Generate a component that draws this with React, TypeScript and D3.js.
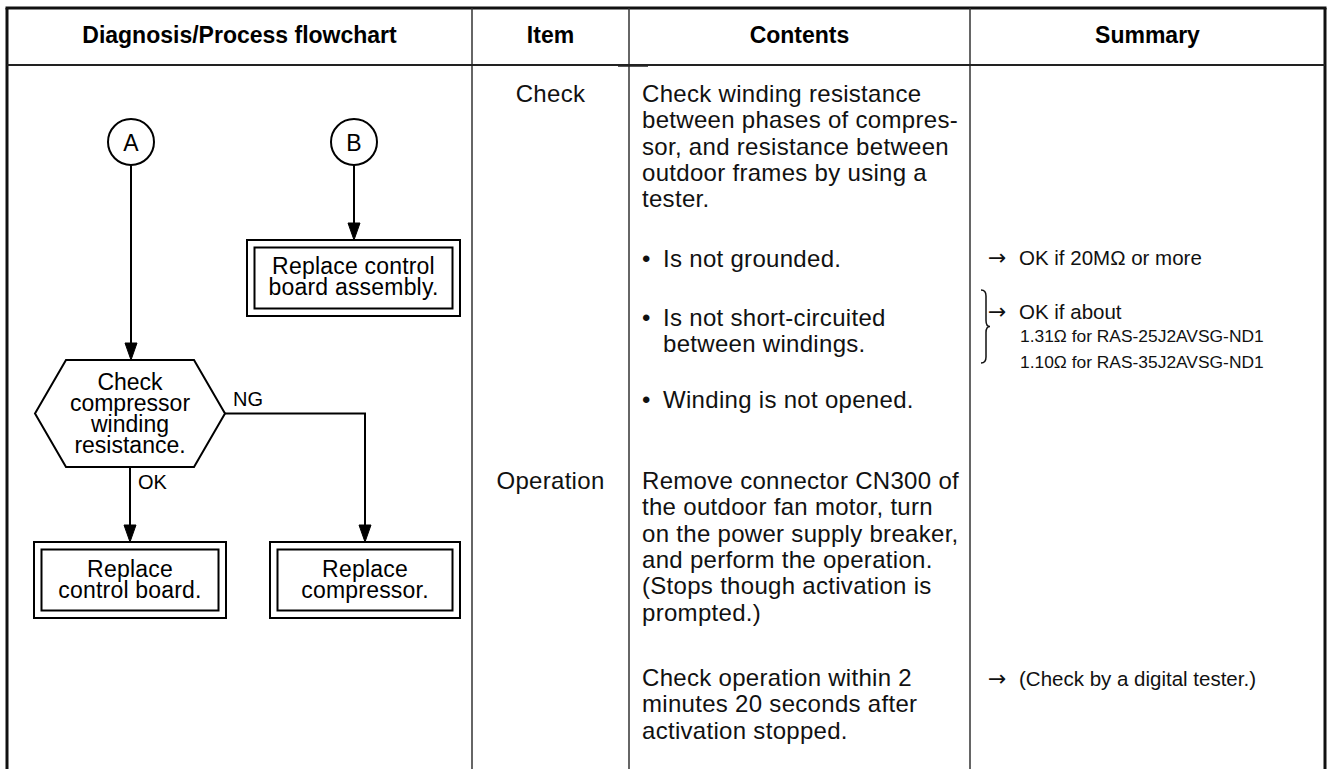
import React from "react";
import * as d3 from "d3";

// ---------- data (texts) ----------
const headers = ["Diagnosis/Process flowchart", "Item", "Contents", "Summary"];
const items = ["Check", "Operation"];
const contentsCheckIntro = [
  "Check winding resistance",
  "between phases of compres-",
  "sor, and resistance between",
  "outdoor frames by using a",
  "tester.",
];
const contentsBullets = [
  ["Is not grounded."],
  ["Is not short-circuited", "between windings."],
  ["Winding is not opened."],
];
const contentsOperation = [
  "Remove connector CN300 of",
  "the outdoor fan motor, turn",
  "on the power supply breaker,",
  "and perform the operation.",
  "(Stops though activation is",
  "prompted.)",
];
const contentsOperationCheck = [
  "Check operation within 2",
  "minutes 20 seconds after",
  "activation stopped.",
];
const summaryMain = ["OK if 20M\u03A9 or more", "OK if about", "(Check by a digital tester.)"];
const summarySub = ["1.31\u03A9 for RAS-25J2AVSG-ND1", "1.10\u03A9 for RAS-35J2AVSG-ND1"];
const connectorLabels = ["A", "B"];
const decisionText = ["Check", "compressor", "winding", "resistance."];
const boxTexts = [
  ["Replace control", "board assembly."],
  ["Replace", "control board."],
  ["Replace", "compressor."],
];
const branchLabels = ["NG", "OK"];

// ---------- layout ----------
const W = 1327;
const H = 769;
const FONT = "'Liberation Sans', Arial, Helvetica, sans-serif";
const colEdges = [7, 472, 629, 970, 1325];
const topY = 8;
const headY = 65;
const lineGap = 26.3;
const flowFs = 23;

const xCenter = (i: number) => (colEdges[i] + colEdges[i + 1]) / 2;

const line = d3.line<[number, number]>();

function Arrow({ pts }: { pts: [number, number][] }) {
  const [tx, ty] = pts[pts.length - 1];
  const hl = 17;
  const hw = 6;
  const shaft = pts.slice(0, -1).concat([[tx, ty - hl + 2]]);
  const head: [number, number][] = [
    [tx - hw, ty - hl],
    [tx + hw, ty - hl],
    [tx, ty],
  ];
  return (
    <g>
      <path d={line(shaft) || ""} fill="none" stroke="#000" strokeWidth={2} />
      <path d={(line(head) || "") + "Z"} fill="#000" stroke="#000" strokeWidth={1} strokeLinejoin="miter" />
    </g>
  );
}

function DoubleBox({ x0, y0, x1, y1, lines, cy }: { x0: number; y0: number; x1: number; y1: number; lines: string[]; cy: number }) {
  const g = 7.5;
  const cx = (x0 + x1) / 2;
  return (
    <g>
      <rect x={x0} y={y0} width={x1 - x0} height={y1 - y0} fill="#fff" stroke="#000" strokeWidth={2} />
      <rect x={x0 + g} y={y0 + g} width={x1 - x0 - 2 * g} height={y1 - y0 - 2 * g} fill="none" stroke="#000" strokeWidth={2} />
      {lines.map((t, i) => (
        <text key={i} x={cx} y={cy + i * 20.5} textAnchor="middle" fontSize={flowFs} fontFamily={FONT} letterSpacing={0.2}>
          {t}
        </text>
      ))}
    </g>
  );
}

export default function App() {
  const bodyFs = 24;
  const bodyLs = 0.3;
  const cX = 642;

  const hex: [number, number][] = [
    [66, 360],
    [194, 360],
    [225, 413.5],
    [194, 467],
    [66, 467],
    [35, 413.5],
  ];

  const text = (t: string, x: number, y: number, extra: any = {}) => (
    <text x={x} y={y} fontSize={bodyFs} fontFamily={FONT} letterSpacing={bodyLs} fill="#111" {...extra}>
      {t}
    </text>
  );

  const braceX = 981;
  const bTop = 290;
  const bBot = 363;
  const bMid = (bTop + bBot) / 2;
  const brace = `M${braceX},${bTop} Q${braceX + 5},${bTop} ${braceX + 5},${bTop + 6} L${braceX + 5},${bMid - 6} Q${braceX + 5},${bMid} ${braceX + 9},${bMid} Q${braceX + 5},${bMid} ${braceX + 5},${bMid + 6} L${braceX + 5},${bBot - 6} Q${braceX + 5},${bBot} ${braceX},${bBot}`;

  const summaryRows = [265, 319, 686];

  return (
    <svg width={W} height={H} style={{ position: "absolute", left: 0, top: 0, display: "block", background: "#fff" }}>
      <rect x={0} y={0} width={W} height={H} fill="#fff" />
      {/* table frame */}
      <line x1={colEdges[0] - 1.5} x2={colEdges[4] + 1.5} y1={topY} y2={topY} stroke="#111" strokeWidth={3} />
      <line x1={colEdges[0]} x2={colEdges[0]} y1={topY} y2={H} stroke="#111" strokeWidth={3} />
      <line x1={colEdges[4]} x2={colEdges[4]} y1={topY} y2={H} stroke="#111" strokeWidth={3} />
      {colEdges.slice(1, 4).map((x, i) => (
        <line key={i} x1={x} x2={x} y1={topY} y2={H} stroke="#333" strokeWidth={1.5} />
      ))}
      <line x1={colEdges[0]} x2={colEdges[4]} y1={headY} y2={headY} stroke="#222" strokeWidth={2} />
      <line x1={618} x2={648} y1={headY + 0.5} y2={headY + 0.5} stroke="#222" strokeWidth={2.5} />

      {/* headers */}
      {headers.map((h, i) => (
        <text key={h} x={xCenter(i)} y={43} textAnchor="middle" fontSize={23} fontWeight="bold" fontFamily={FONT} fill="#000">
          {h}
        </text>
      ))}

      {/* item column */}
      {text(items[0], xCenter(1), 102, { textAnchor: "middle" })}
      {text(items[1], xCenter(1), 489, { textAnchor: "middle" })}

      {/* contents column */}
      {contentsCheckIntro.map((t, i) => <g key={"ci" + i}>{text(t, cX, 102 + i * lineGap)}</g>)}
      {contentsBullets.map((ls, bi) => {
        const y0 = [267, 326, 408][bi];
        return (
          <g key={"b" + bi}>
            {text("\u2022", cX, y0)}
            {ls.map((t, i) => <g key={i}>{text(t, 663, y0 + i * lineGap)}</g>)}
          </g>
        );
      })}
      {contentsOperation.map((t, i) => <g key={"o" + i}>{text(t, cX, 489 + i * lineGap)}</g>)}
      {contentsOperationCheck.map((t, i) => <g key={"oc" + i}>{text(t, cX, 686 + i * lineGap)}</g>)}

      {/* summary column */}
      {summaryMain.map((t, i) => (
        <g key={"s" + i}>
          <text x={988} y={summaryRows[i]} fontSize={22} fontFamily="'DejaVu Sans', sans-serif" fill="#111">
            {"\u2192"}
          </text>
          <text x={1019} y={summaryRows[i]} fontSize={20.5} fontFamily={FONT} fill="#111">
            {t}
          </text>
        </g>
      ))}
      {summarySub.map((t, i) => (
        <text key={"ss" + i} x={1020} y={342 + i * 26} fontSize={17.4} fontFamily={FONT} fill="#111">
          {t}
        </text>
      ))}
      <path d={brace} fill="none" stroke="#111" strokeWidth={1.5} />

      {/* flowchart */}
      <Arrow pts={[[131, 165], [131, 360]]} />
      <Arrow pts={[[354, 165], [354, 240]]} />
      <Arrow pts={[[130, 467], [130, 542]]} />
      <Arrow pts={[[225, 413.5], [365, 413.5], [365, 542]]} />

      {[131, 354].map((cx, i) => (
        <g key={"c" + i}>
          <circle cx={cx} cy={142} r={23} fill="#fff" stroke="#000" strokeWidth={2} />
          <text x={cx} y={150.5} textAnchor="middle" fontSize={23} fontFamily={FONT} fill="#000">
            {connectorLabels[i]}
          </text>
        </g>
      ))}

      <path d={(line(hex) || "") + "Z"} fill="#fff" stroke="#000" strokeWidth={2} strokeLinejoin="miter" />
      {decisionText.map((t, i) => (
        <text key={"d" + i} x={130} y={390 + i * 21} textAnchor="middle" fontSize={flowFs} fontFamily={FONT} fill="#000">
          {t}
        </text>
      ))}
      <text x={233} y={406} fontSize={20} fontFamily={FONT} fill="#000">{branchLabels[0]}</text>
      <text x={138} y={489} fontSize={20} fontFamily={FONT} fill="#000">{branchLabels[1]}</text>

      <DoubleBox x0={247} y0={240} x1={460} y1={316} lines={boxTexts[0]} cy={274} />
      <DoubleBox x0={34} y0={542} x1={226} y1={618} lines={boxTexts[1]} cy={577} />
      <DoubleBox x0={270} y0={542} x1={460} y1={618} lines={boxTexts[2]} cy={577} />
    </svg>
  );
}
